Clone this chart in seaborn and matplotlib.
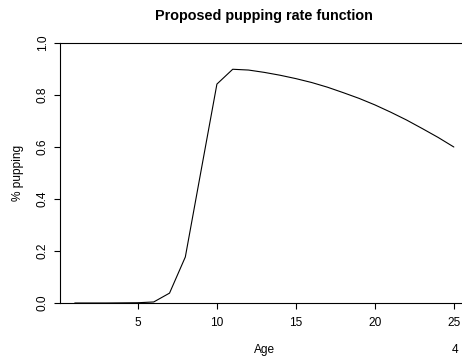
import matplotlib
matplotlib.use("Agg")
import matplotlib.pyplot as plt
import pandas as pd
import seaborn as sns

# values
age = list(range(1, 26))
pupping = [0.0, 0.0, 0.0, 0.0005, 0.001, 0.004, 0.038, 0.177, 0.51, 0.842,
           0.899, 0.896, 0.887, 0.876, 0.863, 0.848, 0.830, 0.809, 0.787,
           0.762, 0.734, 0.704, 0.671, 0.637, 0.600]
x_ticks = [5, 10, 15, 20, 25]
y_ticks = [0.0, 0.2, 0.4, 0.6, 0.8, 1.0]
y_tick_labels = ["0.0", "0.2", "0.4", "0.6", "0.8", "1.0"]

df = pd.DataFrame({"age": age, "pupping": pupping})

sns.set_theme(style="ticks", rc={"text.color": "black", "axes.labelcolor": "black",
                                 "xtick.color": "black", "ytick.color": "black",
                                 "axes.edgecolor": "black"})
plt.rcParams["font.family"] = ["Liberation Sans", "DejaVu Sans"]

fig = plt.figure(figsize=(4.62, 3.6), dpi=100)
# plot region runs past the right edge, as in the cropped reference
ax = fig.add_axes([59.6 / 462, 57 / 360, (469 - 59.6) / 462, 260 / 360])

sns.lineplot(data=df, x="age", y="pupping", color="black", linewidth=0.8, ax=ax)

ax.set_xlim(0.04, 25.96)
ax.set_ylim(0, 1)
ax.set_xticks(x_ticks)
ax.set_xticklabels([str(t) for t in x_ticks])
ax.set_yticks(y_ticks)
ax.set_yticklabels(y_tick_labels, rotation=90, va="center")

for side in ["left", "top", "bottom", "right"]:
    ax.spines[side].set_linewidth(0.8)
ax.tick_params(axis="both", direction="out", length=4.3, width=0.8,
               labelsize=8.6)
ax.tick_params(axis="x", pad=6)
ax.tick_params(axis="y", pad=3.5)

ax.set_xlabel("Age", fontsize=8.6, labelpad=10.5)
ax.set_ylabel("% pupping", fontsize=8.6, labelpad=9.5)
ax.set_title("Proposed pupping rate function", fontsize=10.4,
             fontweight="bold", pad=16.5, color="black")

fig.text(452 / 462, 1 - 350 / 360, "4", fontsize=8.6, ha="left", va="center")

fig.savefig("out.png", dpi=100)
plt.close(fig)
